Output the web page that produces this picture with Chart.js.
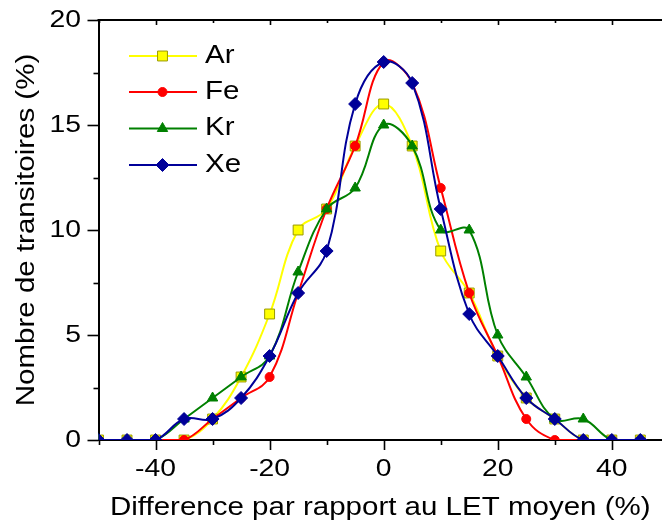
<!DOCTYPE html>
<html><head><meta charset="utf-8">
<script src="https://cdn.jsdelivr.net/npm/chart.js@4"></script>
<style>html,body{margin:0;padding:0;background:#fff;overflow:hidden}#wrap{width:662px;height:527px;position:relative}</style>
</head><body><div id="wrap"><canvas id="c" width="662" height="527"></canvas></div>
<script>
// ---- data ----
const diffs = [-50,-45,-40,-35,-30,-25,-20,-15,-10,-5,0,5,10,15,20,25,30,35,40,45];
const ar = [0,0,0,0,1,3,6,10,11,14,16,14,9,7,4,2,1,0,0,0];
const fe = [null,null,0,0,1,2,3,7,11,14,18,17,12,7,4,1,0,0,0,null];
const kr = [0,0,0,1,2,3,4,8,11,12,15,14,10,10,5,3,1,1,0,0];
const xe = [0,0,0,1,1,2,4,7,9,16,18,17,11,6,4,2,1,0,0,0];
const seriesNames = ['Ar','Fe','Kr','Xe'];
const xTickLabels = [-40,-20,0,20,40];
const xMinorTicks = [-50,-40,-30,-20,-10,0,10,20,30,40];
const yTickLabels = [0,5,10,15,20];
const yMinorTicks = [0,2.5,5,7.5,10,12.5,15,17.5,20];
const xTitle = 'Difference par rapport au LET moyen (%)';
const yTitle = 'Nombre de transitoires (%)';

const FONT = "'Liberation Sans', Arial, sans-serif";
const canvas = document.getElementById('c');
const ctx = canvas.getContext('2d');
// text in the reference is widened along its reading direction
const TEXT_SX = 1.18;
const origFill = ctx.fillText.bind(ctx);
ctx.fillText = function(text, x, y){
  ctx.save(); ctx.translate(x, y); ctx.scale(TEXT_SX, 1); origFill(text, 0, 0); ctx.restore();
};

const AREA = { left: 98.5, top: 20, right: 662, bottom: 440 };

function pts(arr){ return diffs.map((d,i)=>({x:d, y:arr[i]})); }

const styles = [
  {color:'#FFFF00', fill:'#FFFF00', border:'#9A9A00', pointStyle:'rect', radius:7, order:4},
  {color:'#FF0000', fill:'#FF0000', border:'#FF0000', pointStyle:'circle', radius:4.5, order:3},
  {color:'#008000', fill:'#008000', border:'#008000', pointStyle:'triangle', radius:6, order:2},
  {color:'#000099', fill:'#000099', border:'#000099', pointStyle:'rectRot', radius:6.5, order:1}
];
const series = [ar, fe, kr, xe];

const datasets = series.map((s,i)=>({
  label: seriesNames[i],
  data: pts(s),
  borderColor: styles[i].color,
  backgroundColor: styles[i].fill,
  pointBackgroundColor: styles[i].fill,
  pointBorderColor: styles[i].border,
  pointBorderWidth: 1,
  pointStyle: styles[i].pointStyle,
  pointRadius: styles[i].radius,
  borderWidth: 2,
  tension: 0.4,
  spanGaps: false,
  order: styles[i].order
}));

const tickPlugin = {
  id:'tickPlugin',
  afterDraw(chart){
    const c = chart.ctx, xs = chart.scales.x, ys = chart.scales.y, a = chart.chartArea;
    c.save();
    c.strokeStyle = '#000'; c.lineWidth = 2;
    c.beginPath(); c.moveTo(a.left - 1, a.top); c.lineTo(a.right, a.top); c.stroke();
    c.lineWidth = 1.6;
    xMinorTicks.forEach(v=>{
      const px = Math.round(xs.getPixelForValue(v)) + 0.5;
      const major = xTickLabels.includes(v);
      c.beginPath(); c.moveTo(px, a.bottom); c.lineTo(px, a.bottom + (major ? 10 : 5)); c.stroke();
      c.beginPath(); c.moveTo(px, a.top); c.lineTo(px, a.top + (major ? 5 : 3)); c.stroke();
    });
    yMinorTicks.forEach(v=>{
      const py = Math.round(ys.getPixelForValue(v)) + 0.5;
      const major = yTickLabels.includes(v);
      c.beginPath(); c.moveTo(a.left, py); c.lineTo(a.left - (major ? 11 : 5), py); c.stroke();
    });
    c.restore();
  }
};

const legendPlugin = {
  id:'legendPlugin',
  afterDraw(chart){
    const c = chart.ctx;
    const rows = [56, 92, 128.5, 165];
    c.save();
    chart.data.datasets.forEach((ds,i)=>{
      const y = rows[i];
      c.strokeStyle = ds.borderColor; c.lineWidth = 2;
      c.beginPath(); c.moveTo(129, y); c.lineTo(197, y); c.stroke();
      c.fillStyle = ds.pointBackgroundColor; c.strokeStyle = ds.pointBorderColor; c.lineWidth = 1;
      Chart.helpers.drawPoint(c, {pointStyle: ds.pointStyle, radius: ds.pointRadius, rotation: 0, borderWidth: 1}, 162.5, y);
      c.fillStyle = '#000'; c.font = '25px ' + FONT; c.textAlign = 'left'; c.textBaseline = 'middle';
      c.fillText(ds.label, 205, y);
    });
    c.restore();
  }
};

new Chart(ctx, {
  type: 'line',
  data: { datasets },
  options: {
    responsive: false,
    animation: false,
    layout: { autoPadding: false, padding: { top: AREA.top, left: 0, right: 0, bottom: 0 } },
    plugins: { legend: { display: false }, tooltip: { enabled: false } },
    scales: {
      x: {
        type: 'linear', position: 'bottom', min: -50, max: 48.8,
        afterBuildTicks: s => { s.ticks = xMinorTicks.map(v=>({value:v})); },
        afterFit: s => { s.height = 527 - AREA.bottom; s.paddingLeft = 0; s.paddingRight = 0; },
        ticks: { autoSkip: false, maxRotation: 0, color: '#000', padding: 14.6,
                 font: { family: FONT, size: 24 },
                 callback: v => xTickLabels.includes(v) ? String(v) : '' },
        grid: { display: true, drawOnChartArea: false, drawTicks: false },
        border: { display: true, color: '#000', width: 2 },
        title: { display: true, text: xTitle, color: '#000', font: { family: FONT, size: 25 }, padding: { top: 0, bottom: 3.5 } }
      },
      y: {
        type: 'linear', position: 'left', min: 0, max: 20,
        afterBuildTicks: s => { s.ticks = yMinorTicks.map(v=>({value:v})); },
        afterFit: s => { s.width = AREA.left; s.paddingTop = 0; s.paddingBottom = 0; },
        ticks: { autoSkip: false, color: '#000', padding: 17.5,
                 font: { family: FONT, size: 24 },
                 callback: v => yTickLabels.includes(v) ? String(v) : '' },
        grid: { display: true, drawOnChartArea: false, drawTicks: false },
        border: { display: true, color: '#000', width: 2 },
        title: { display: true, text: yTitle, color: '#000', font: { family: FONT, size: 25 }, padding: { top: 12.5, bottom: 0 } }
      }
    }
  },
  plugins: [tickPlugin, legendPlugin]
});
</script>
</body></html>
